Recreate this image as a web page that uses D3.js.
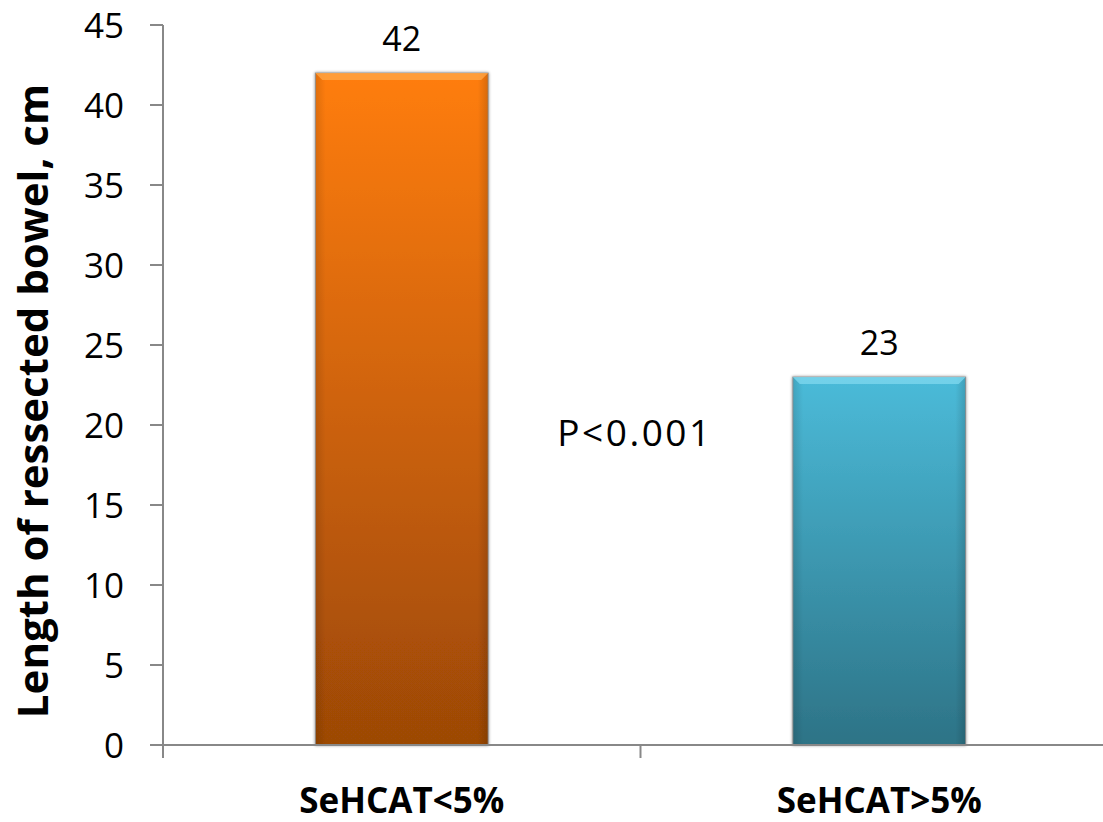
<!DOCTYPE html>
<html>
<head>
<meta charset="utf-8">
<script src="https://cdn.jsdelivr.net/npm/d3@7/dist/d3.min.js"></script>
<style>
  html, body { margin: 0; padding: 0; background: #ffffff; }
  svg { display: block; }
</style>
</head>
<body>
<svg id="chart" width="1103" height="822"></svg>
<script>
// Mean length of resected bowel by SeHCAT retention group
const categories = ["SeHCAT<5%", "SeHCAT>5%"];
const values = [42, 23];
const yTicks = [0, 5, 10, 15, 20, 25, 30, 35, 40, 45];
const yTitle = "Length of ressected bowel, cm";
const pLabel = "P<0.001";

const barTop = ["#ff7d0c", "#4bbbd9"];
const barBottom = ["#9c4806", "#2d7386"];
const barBevel = ["#ffa545", "#7dd7ee"];

const svg = d3.select("#chart");
const axisColor = "#888888";
const font = "'Open Sans', 'Noto Sans', sans-serif";

const x = d3.scaleBand().domain(categories).range([163, 1118]).padding(0);
const y = d3.scaleLinear().domain([0, 45]).range([745, 25]);
const barW = x.bandwidth() * 0.362;

// gradients and soft edge shadow for the bars
const defs = svg.append("defs");
categories.forEach((c, i) => {
  const g = defs.append("linearGradient").attr("id", "grad" + i)
    .attr("x1", 0).attr("y1", 0).attr("x2", 0).attr("y2", 1);
  g.append("stop").attr("offset", "0%").attr("stop-color", barTop[i]);
  g.append("stop").attr("offset", "100%").attr("stop-color", barBottom[i]);
  const h = defs.append("linearGradient").attr("id", "side" + i)
    .attr("x1", 0).attr("y1", 0).attr("x2", 1).attr("y2", 0);
  h.append("stop").attr("offset", "0%").attr("stop-color", "#000").attr("stop-opacity", 0.12);
  h.append("stop").attr("offset", "6%").attr("stop-color", "#000").attr("stop-opacity", 0);
  h.append("stop").attr("offset", "94%").attr("stop-color", "#000").attr("stop-opacity", 0);
  h.append("stop").attr("offset", "100%").attr("stop-color", "#000").attr("stop-opacity", 0.15);
});
const shadow = defs.append("filter").attr("id", "shadow")
  .attr("x", "-10%").attr("y", "-10%").attr("width", "120%").attr("height", "120%");
shadow.append("feGaussianBlur").attr("in", "SourceAlpha").attr("stdDeviation", 1.5).attr("result", "b");
shadow.append("feComponentTransfer").attr("in", "b").attr("result", "s")
  .append("feFuncA").attr("type", "linear").attr("slope", 0.45);
const merge = shadow.append("feMerge");
merge.append("feMergeNode").attr("in", "s");
merge.append("feMergeNode").attr("in", "SourceGraphic");

// bars
const bars = svg.append("g").selectAll("g").data(categories).join("g");
bars.each(function (c, i) {
  const gEl = d3.select(this);
  const x0 = x(c) + (x.bandwidth() - barW) / 2;
  const y0 = y(values[i]);
  const h = y(0) - y0;
  gEl.append("rect").attr("x", x0).attr("y", y0).attr("width", barW).attr("height", h)
    .attr("fill", "url(#grad" + i + ")").attr("stroke", "#9a9a9a").attr("stroke-width", 1)
    .attr("filter", "url(#shadow)");
  gEl.append("rect").attr("x", x0).attr("y", y0).attr("width", barW).attr("height", h)
    .attr("fill", "url(#side" + i + ")");
  const b = 7;
  gEl.append("path")
    .attr("d", `M${x0},${y0} L${x0 + barW},${y0} L${x0 + barW - b},${y0 + b} L${x0 + b},${y0 + b} Z`)
    .attr("fill", barBevel[i]).attr("opacity", 0.8);
});

// y axis
const yAxis = svg.append("g");
yAxis.append("line").attr("x1", 163).attr("x2", 163).attr("y1", y(45)).attr("y2", y(0) + 13)
  .attr("stroke", axisColor).attr("stroke-width", 2);
yAxis.selectAll("line.tick").data(yTicks).join("line").attr("class", "tick")
  .attr("x1", 150).attr("x2", 163).attr("y1", d => y(d)).attr("y2", d => y(d))
  .attr("stroke", axisColor).attr("stroke-width", 2);
yAxis.selectAll("text").data(yTicks).join("text")
  .attr("x", 124).attr("y", d => y(d)).attr("dy", "0.36em")
  .attr("text-anchor", "end").attr("font-family", font).attr("font-size", 35)
  .attr("fill", "#000").text(d => d);

// x axis
const xAxis = svg.append("g");
xAxis.append("line").attr("x1", 150).attr("x2", 1118).attr("y1", y(0)).attr("y2", y(0))
  .attr("stroke", axisColor).attr("stroke-width", 2);
xAxis.selectAll("line.tick").data(categories.slice(1)).join("line").attr("class", "tick")
  .attr("x1", d => x(d)).attr("x2", d => x(d)).attr("y1", y(0)).attr("y2", y(0) + 13)
  .attr("stroke", axisColor).attr("stroke-width", 2);
xAxis.selectAll("text").data(categories).join("text")
  .attr("x", d => x(d) + x.bandwidth() / 2).attr("y", 813)
  .attr("text-anchor", "middle").attr("font-family", font).attr("font-weight", 700)
  .attr("font-size", 35).attr("fill", "#000").text(d => d);

// value labels
svg.append("g").selectAll("text").data(categories).join("text")
  .attr("x", d => x(d) + x.bandwidth() / 2).attr("y", (d, i) => y(values[i]) - 22)
  .attr("text-anchor", "middle").attr("font-family", font).attr("font-size", 34)
  .attr("fill", "#000").text((d, i) => values[i]);

// significance
svg.append("text").attr("x", 635).attr("y", 446).attr("text-anchor", "middle")
  .attr("font-family", font).attr("font-size", 37).attr("letter-spacing", 2.5)
  .attr("fill", "#000").text(pLabel);

// y title
svg.append("text").attr("transform", "translate(48,401) rotate(-90)")
  .attr("text-anchor", "middle").attr("font-family", font).attr("font-weight", 700)
  .attr("font-size", 42).attr("fill", "#000").text(yTitle);
</script>
</body>
</html>
